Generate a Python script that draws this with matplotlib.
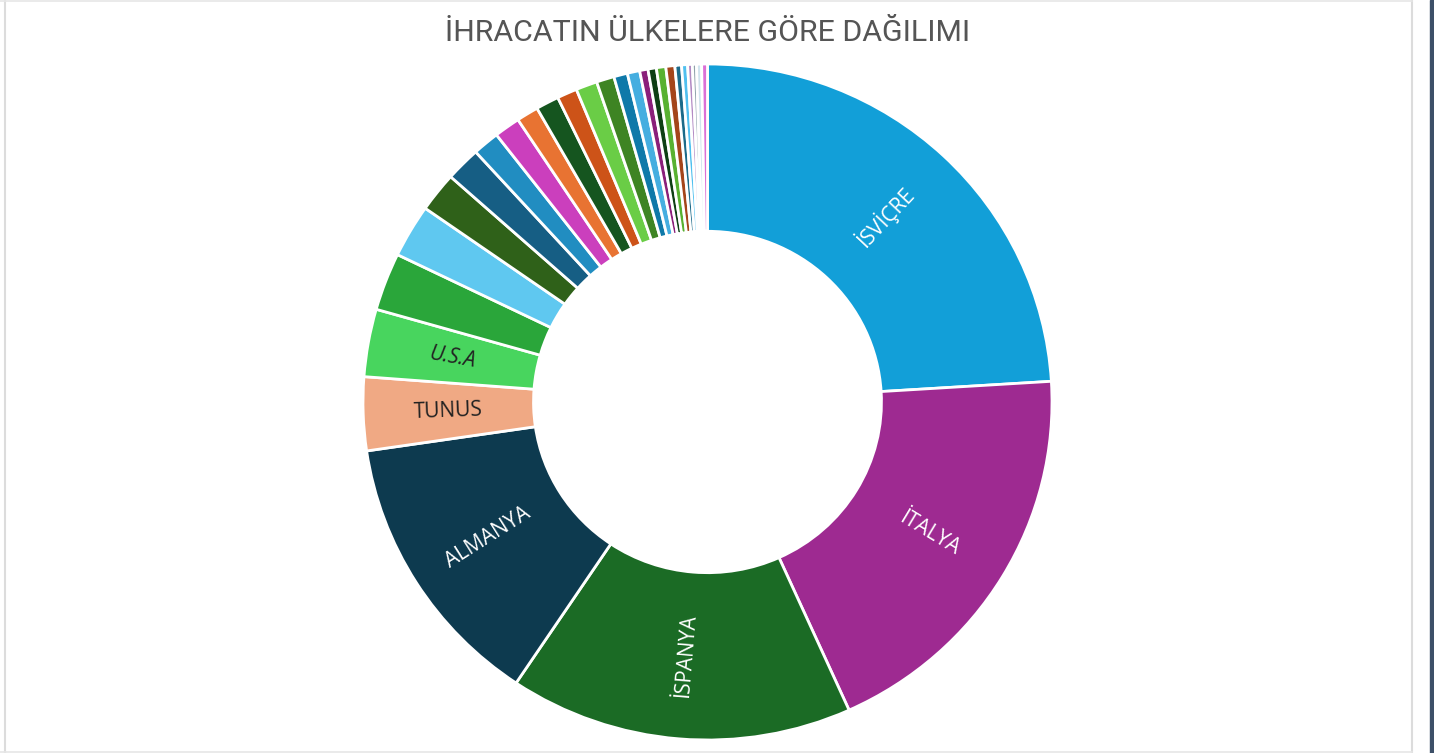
import matplotlib
matplotlib.use("Agg")
from matplotlib import pyplot as plt
from matplotlib import font_manager
from matplotlib.lines import Line2D
from matplotlib.patches import Rectangle
import numpy as np

W, H = 1434, 753

countries = ["İSVİÇRE", "İTALYA", "İSPANYA", "ALMANYA", "TUNUS", "U.S.A",
             "c7", "c8", "c9", "c10", "c11", "c12", "c13", "c14", "c15",
             "c16", "c17", "c18", "c19", "c20", "c21", "c22", "c23",
             "c24", "c25", "c26", "c27", "c28", "c29"]
shares = [23.97, 19.19, 16.08, 13.28, 3.50, 3.22,
          2.75, 2.53, 1.89, 1.64, 1.25, 1.22, 1.03, 1.08, 0.94,
          1.00, 0.83, 0.64, 0.58, 0.39, 0.39, 0.44, 0.42,
          0.31, 0.28, 0.22, 0.19, 0.24, 0.27]
colors = ["#129fd8", "#9e2a91", "#1b6b25", "#0d3a4f", "#f0a984", "#48d55e",
          "#2aa63a", "#5fc8f0", "#2f6119", "#165e84", "#218dc1", "#cb3fbd",
          "#e87332", "#15551f", "#cd5318", "#6acd46", "#3e8423", "#0f79a9",
          "#45aee0", "#8a1f7a", "#0e3f14", "#58b131", "#a4451a",
          "#1b6a89", "#50c0ef", "#b38bc4", "#8fa2ab", "#d0e4ee", "#db70d6"]
shown_labels = {"İSVİÇRE": "white", "İTALYA": "white", "İSPANYA": "white",
                "ALMANYA": "white", "TUNUS": "#222222", "U.S.A": "#222222"}

names = {f.name for f in font_manager.fontManager.ttflist}
title_font = "Liberation Sans Narrow" if "Liberation Sans Narrow" in names else "Roboto"

fig = plt.figure(figsize=(W / 100, H / 100), dpi=100)

# pie centre and radii in pixels (reference is a bit wider than tall)
cx, cy, rx, ry = 707.5, 402, 344.5, 338
ax = fig.add_axes([(cx - rx) / W, (H - cy - ry) / H, 2 * rx / W, 2 * ry / H])
wedges, _ = ax.pie(shares, colors=colors, startangle=90, counterclock=False,
                   radius=1, wedgeprops=dict(width=0.495, edgecolor="white", linewidth=2.0))
ax.set_aspect("auto")
ax.set_xlim(-1, 1)
ax.set_ylim(-1, 1)
ax.axis("off")

for w, name in zip(wedges, countries):
    if name not in shown_labels:
        continue
    mid = (w.theta1 + w.theta2) / 2
    rr = 1 - 0.495 / 2
    x, y = rr * np.cos(np.radians(mid)), rr * np.sin(np.radians(mid))
    rot = mid
    while rot > 90:
        rot -= 180
    while rot < -90:
        rot += 180
    ax.text(x, y, name, ha="center", va="center", rotation=rot,
            rotation_mode="anchor", fontsize=15, family="Open Sans",
            color=shown_labels[name],
            style="italic" if name == "U.S.A" else "normal")

fig.text(0.4935, 1 - 33 / H, "İHRACATIN ÜLKELERE GÖRE DAĞILIMI", ha="center",
         va="center", fontsize=21.8, family=title_font, color="#555555")

# frame lines
fig.add_artist(Line2D([4.5 / W, 4.5 / W], [0, 1], color="#dcdcdc", lw=1.5))
fig.add_artist(Line2D([1412 / W, 1412 / W], [0, 1], color="#dcdcdc", lw=1.5))
fig.add_artist(Line2D([0, 1412 / W], [1 - 1 / H, 1 - 1 / H], color="#e6e6e6", lw=1.2))
fig.add_artist(Line2D([0, 1412 / W], [1.5 / H, 1.5 / H], color="#e6e6e6", lw=1.2))
fig.add_artist(Rectangle((1430 / W, 0), 4 / W, 1, color="#3d5068", transform=fig.transFigure))

fig.savefig("out.png", dpi=100)
